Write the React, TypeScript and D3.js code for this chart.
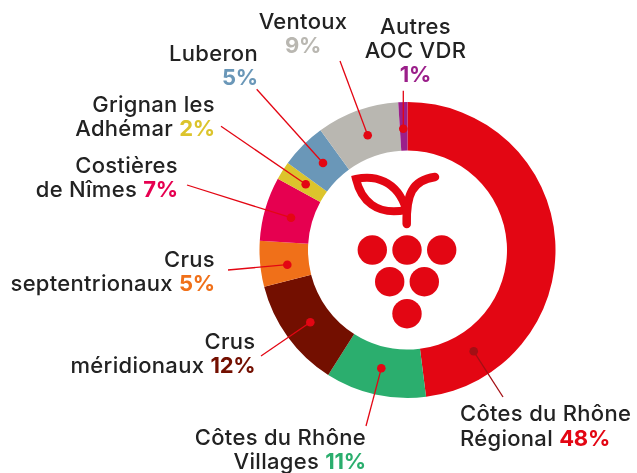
import React from "react";
import * as d3 from "d3";

const categories = ["Côtes du Rhône Régional","Côtes du Rhône Villages","Crus méridionaux","Crus septentrionaux","Costières de Nîmes","Grignan les Adhémar","Luberon","Ventoux","Autres AOC VDR"];
const shares = [48,11,12,5,7,2,5,9,1];
const colors = ["#e30613","#2bae6e","#730f00","#f07019","#e60050","#dcc42c","#6a97b8","#b9b7b1","#9b1f8a"];
const RED = "#e30613";
const DARK_RED = "#a30f14";
const INK = "#222222";

const labels = [
  { anchor:"start", x:460, lines:[{y:421,t:"Côtes du Rhône"},{y:446,t:"Régional ",p:"48%"}] },
  { anchor:"end", x:366, lines:[{y:445,t:"Côtes du Rhône"},{y:468.5,t:"Villages ",p:"11%"}] },
  { anchor:"end", x:255.5, lines:[{y:349,t:"Crus"},{y:373,t:"méridionaux ",p:"12%"}] },
  { anchor:"end", x:215, lines:[{y:266.5,t:"Crus"},{y:291,t:"septentrionaux ",p:"5%"}] },
  { anchor:"end", x:178, lines:[{y:172.5,t:"Costières"},{y:196.5,t:"de Nîmes ",p:"7%"}] },
  { anchor:"end", x:215, lines:[{y:111.5,t:"Grignan les"},{y:135.5,t:"Adhémar ",p:"2%"}] },
  { anchor:"end", x:258, lines:[{y:61,t:"Luberon"},{y:85,p:"5%"}] },
  { anchor:"middle", x:303, lines:[{y:29,t:"Ventoux"},{y:53,p:"9%"}] },
  { anchor:"middle", x:415.5, lines:[{y:33.5,t:"Autres"},{y:57.5,t:"AOC VDR"},{y:82,p:"1%"}] },
];
const leaders = [
  [503,397,473.7,351.3],[366,426,381.3,368.3],[261,356,310.3,322.3],[228,270,287.3,264.7],
  [187,185,291,217.7],[221,126.3,305.7,184.3],[256.7,89.3,323,163],[340,61,367.7,135.3],[403.3,90.7,403.3,128.7],
];

const cx = 407.5, cy = 250, R = 148, r = 99.5;
const grapes = [[372.3,250],[407,250],[441.7,250],[389.7,281.7],[424.3,281.7],[407,313.7]];

export default function App() {
  const pie = d3.pie<number>().sort(null)(shares);
  const arc = d3.arc<d3.PieArcDatum<number>>().innerRadius(r).outerRadius(R);
  return (
    <svg width={637} height={473} style={{position:"fixed",left:0,top:0}} fontFamily="Inter" fontSize={22} fontWeight={500} letterSpacing={0.3}>
      <g transform={`translate(${cx},${cy})`}>
        {pie.map((d,i)=><path key={categories[i]} d={arc(d)!} fill={colors[i]} />)}
      </g>
      {leaders.map((l,i)=>(
        <g key={i}>
          <line x1={l[0]} y1={l[1]} x2={l[2]} y2={l[3]} stroke={i===0?DARK_RED:RED} strokeWidth={1.3}/>
          <circle cx={l[2]} cy={l[3]} r={4.3} fill={i===0?DARK_RED:RED}/>
        </g>
      ))}
      {grapes.map((g,i)=><circle key={i} cx={g[0]} cy={g[1]} r={14.7} fill={RED}/>)}
      <path d="M406 209 C397 180 374 175 356 179 C361 200 376 216 406 210" fill="none" stroke={RED} strokeWidth={8} strokeLinejoin="miter"/>
      <path d="M406.7 224 C406 195 412 180 435 177" fill="none" stroke={RED} strokeWidth={8.5} strokeLinecap="round"/>
      {labels.map((l,i)=>(
        <text key={i} textAnchor={l.anchor as any} fill={INK}>
          {l.lines.map((s:any,j)=>(
            <tspan key={j} x={l.x} y={s.y}>{s.t}{s.p && <tspan fill={colors[i]} fontWeight={700} letterSpacing={-0.2}>{s.p}</tspan>}</tspan>
          ))}
        </text>
      ))}
    </svg>
  );
}
